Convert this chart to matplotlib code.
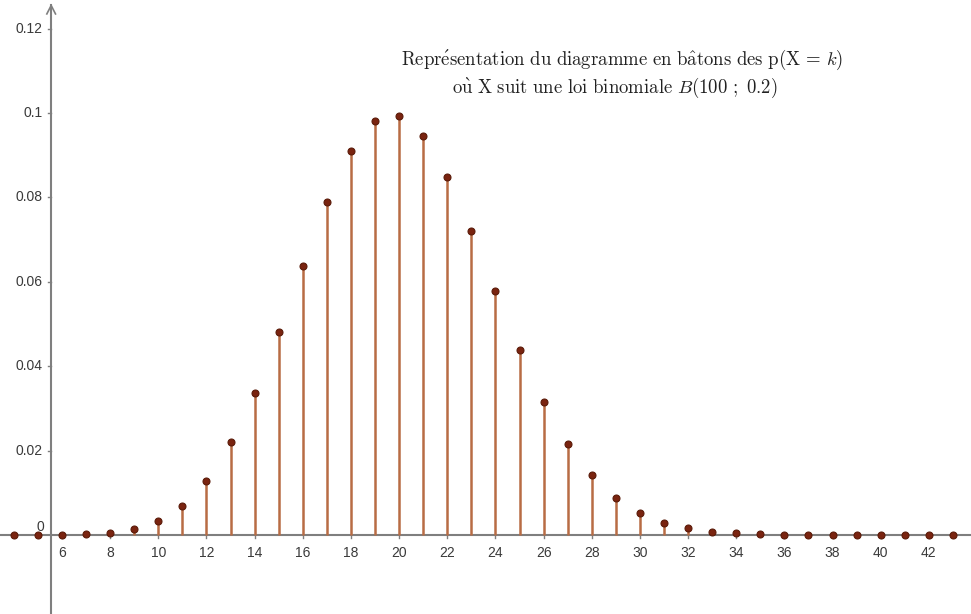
import numpy as np
import matplotlib.pyplot as plt

plt.rcParams['mathtext.fontset'] = 'cm'

# p(X = k) pour X ~ B(100 ; 0.2), k = 4 .. 43
k = list(range(4, 44))
p = [0.000002, 0.00001, 0.00006, 0.0002, 0.00058, 0.00148, 0.00336, 0.00686,
     0.01285, 0.02201, 0.03359, 0.04806, 0.06383, 0.07885, 0.09090, 0.09807,
     0.09930, 0.09457, 0.08490, 0.07198, 0.05773, 0.04388, 0.03164, 0.02168,
     0.01413, 0.00877, 0.00518, 0.00292, 0.00157, 0.00081, 0.00040, 0.00019,
     0.00009, 0.00004, 0.00002, 0.00001, 0.000003, 0.000001, 0.0, 0.0]

xticks = list(range(6, 43, 2))
yticks = [0.02, 0.04, 0.06, 0.08, 0.1, 0.12]
ytick_labels = ['0.02', '0.04', '0.06', '0.08', '0.1', '0.12']

fig = plt.figure(figsize=(9.71, 6.14), dpi=100)
ax = fig.add_axes([0, 0, 1, 1])
ax.set_xlim(3.425, 43.75)
ax.set_ylim(-0.0187, 0.1268)
ax.axis('off')

axis_col = '#7f7f7f'
x_cross = 5.55  # abscisse où passe l'axe des ordonnées

# axes
ax.plot([3.425, 43.75], [0, 0], color=axis_col, lw=1.5, zorder=1)
ax.plot([x_cross, x_cross], [-0.0187, 0.1255], color=axis_col, lw=1.5, zorder=1)
ax.plot([x_cross - 0.18, x_cross, x_cross + 0.18], [0.1235, 0.1255, 0.1235],
        color=axis_col, lw=1.2, zorder=1)

# graduations
for xt in xticks:
    ax.plot([xt, xt], [0, -0.0006], color=axis_col, lw=1.0)
    ax.text(xt, -0.0025, str(xt), ha='center', va='top', fontsize=10,
            color='#3a3a3a', family='Liberation Sans')
for yt, lab in zip(yticks, ytick_labels):
    ax.plot([x_cross - 0.12, x_cross], [yt, yt], color=axis_col, lw=1.0)
    ax.text(x_cross - 0.35, yt, lab, ha='right', va='center', fontsize=10,
            color='#3a3a3a', family='Liberation Sans')
ax.text(x_cross - 0.3, 0.0003, '0', ha='right', va='bottom', fontsize=10,
        color='#3a3a3a', family='Liberation Sans')

# bâtons
ax.vlines(k, 0, p, color='#b86c44', lw=1.8, zorder=2)
ax.plot(k, p, 'o', color='#7a2410', markeredgecolor='#5a1a08', markersize=5,
        markeredgewidth=0.8, zorder=3)

line1 = (r'$\mathrm{Repr\acute{e}sentation\ du\ diagramme\ en\ b\hat{a}tons\ des\ p(X}'
         r'\,=\,k\mathrm{)}$')
line2 = r'$\mathrm{o\grave{u}\ X\ suit\ une\ loi\ binomiale\ }B\mathrm{(100\ ;\ 0.2)}$'
ax.text(29.25, 0.1126, line1, ha='center', va='center', fontsize=13.5, color='#222222')
ax.text(28.97, 0.1059, line2, ha='center', va='center', fontsize=13.5, color='#222222')

fig.savefig('out.png', dpi=100)
